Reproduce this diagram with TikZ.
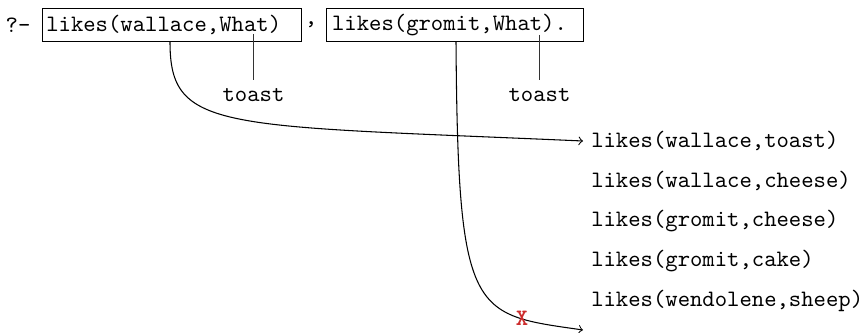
\documentclass[tikz,border=0pt]{standalone}
\usetikzlibrary{arrows}
\definecolor{failred}{RGB}{205,45,45}
\begin{document}
\begin{tikzpicture}[x=0.4248pt,y=-0.4248pt,
  every node/.style={font=\ttfamily},
  goal/.style={draw,align=left,inner xsep=1.8pt,inner ysep=0pt,minimum height=14.4pt},
  fact/.style={anchor=west,inner xsep=3.3pt},
  bind/.style={anchor=north},
  link/.style={line width=0.4pt,black!80},
  flow/.style={line width=0.45pt,->}]
\useasboundingbox (0,0) rectangle (868,333);

% the query
\node (q) at (18,25) {?-};
\node[goal,text width=106.8pt] (g1) at (172,25) {likes(wallace,What)};
\node[inner sep=0pt] (comma) at (311,25) {,};
\node[goal,text width=104.4pt,inner xsep=2.2pt] (g2) at (455,25) {likes(gromit,What).};

% bindings of What
\coordinate (w1) at (253.5,34);
\coordinate (w2) at (539.5,35);
\node[bind] (t1) at (253.5,80) {toast};
\node[bind] (t2) at (539.5,80) {toast};
\draw[link] (w1) -- (t1.north);
\draw[link] (w2) -- (t2.north);

% the facts
\node[fact] (f1) at (583,141) {likes(wallace,toast)};
\node[fact] (f2) at (583,181) {likes(wallace,cheese)};
\node[fact] (f3) at (583,221) {likes(gromit,cheese)};
\node[fact] (f4) at (583,261) {likes(gromit,cake)};
\node[fact] (f5) at (583,301) {likes(wendolene,sheep)};
\coordinate (end) at (583,330);

% search paths
\coordinate (s1) at (170,42);
\coordinate (s2) at (456,42);
\draw[flow] (s1) .. controls (170,132) and (220,125) .. (f1.west);
\draw[flow] (s2) .. controls (458,318) and (472,314) .. (end);
\node[text=failred,font=\ttfamily\bfseries,inner sep=0pt] (fail) at (522,318) {X};
\end{tikzpicture}
\end{document}
